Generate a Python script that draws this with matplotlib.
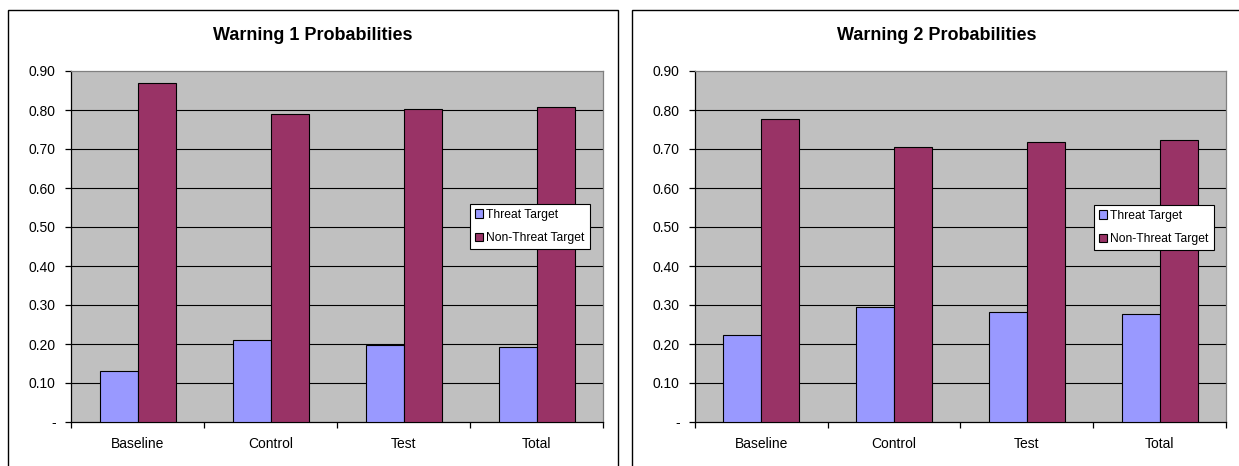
import matplotlib
matplotlib.use("Agg")
import matplotlib.pyplot as plt
from matplotlib.patches import Rectangle
import numpy as np

plt.rcParams['font.family'] = ['Liberation Sans', 'DejaVu Sans']

categories = ["Baseline", "Control", "Test", "Total"]
series_names = ["Threat Target", "Non-Threat Target"]

w1_threat = [0.13, 0.21, 0.198, 0.193]
w1_nonthreat = [0.87, 0.79, 0.802, 0.808]
w2_threat = [0.222, 0.294, 0.282, 0.278]
w2_nonthreat = [0.776, 0.704, 0.718, 0.722]

titles = ["Warning 1 Probabilities", "Warning 2 Probabilities"]
yticks = [0.0, 0.1, 0.2, 0.3, 0.4, 0.5, 0.6, 0.7, 0.8, 0.9]
ytick_labels = ["-", "0.10", "0.20", "0.30", "0.40", "0.50", "0.60", "0.70", "0.80", "0.90"]

threat_color = "#9999FF"
nonthreat_color = "#993366"
plot_bg = "#C0C0C0"

W, H = 1239, 466
fig = plt.figure(figsize=(W / 100, H / 100), dpi=100)
fig.patch.set_facecolor("white")


def px_rect(x0, y0, x1, y1):
    """Convert pixel box (top-left origin) to figure-fraction [l, b, w, h]."""
    return [x0 / W, 1 - y1 / H, (x1 - x0) / W, (y1 - y0) / H]


panels = [
    dict(frame=(8, 10, 618, 480), axes=(71, 71, 603, 422), legend=(470, 204),
         data=(w1_threat, w1_nonthreat), title=titles[0]),
    dict(frame=(632, 10, 1242, 480), axes=(695, 71, 1226, 422), legend=(1094, 205),
         data=(w2_threat, w2_nonthreat), title=titles[1]),
]

x = np.arange(len(categories))
bw = 1 / 3.5

for p in panels:
    fx0, fy0, fx1, fy1 = p["frame"]
    l, b, w, h = px_rect(fx0, fy0, fx1, fy1)
    fig.patches.append(Rectangle((l, b), w, h, transform=fig.transFigure,
                                 facecolor="none", edgecolor="black", linewidth=1.0))

    ax = fig.add_axes(px_rect(*p["axes"]))
    ax.set_facecolor(plot_bg)
    threat, nonthreat = p["data"]
    b1 = ax.bar(x - bw / 2, threat, width=bw, color=threat_color,
                edgecolor="black", linewidth=0.8, zorder=3, label=series_names[0])
    b2 = ax.bar(x + bw / 2, nonthreat, width=bw, color=nonthreat_color,
                edgecolor="black", linewidth=0.8, zorder=3, label=series_names[1])

    ax.set_xlim(-0.5, len(categories) - 0.5)
    ax.set_ylim(0, 0.9)
    ax.set_yticks(yticks)
    ax.set_yticklabels(ytick_labels)
    for yv in yticks[1:-1]:
        ax.axhline(yv, color="black", linewidth=0.8, zorder=1)

    ax.set_xticks(x)
    ax.set_xticklabels(categories)
    ax.set_xticks(np.arange(len(categories) + 1) - 0.5, minor=True)
    ax.tick_params(axis="x", which="major", length=0, pad=11, labelsize=10)
    ax.tick_params(axis="x", which="minor", length=4, width=0.9, direction="out")
    ax.tick_params(axis="y", length=4, width=0.9, direction="out", pad=7, labelsize=10)

    for side in ("top", "right"):
        ax.spines[side].set_color("#808080")
        ax.spines[side].set_linewidth(0.9)
    for side in ("left", "bottom"):
        ax.spines[side].set_color("black")
        ax.spines[side].set_linewidth(0.9)

    fig.text(((fx0 + fx1) / 2) / W, 1 - 35 / H, p["title"], ha="center", va="center",
             fontsize=13, fontweight="bold")

    lx, ly = p["legend"]
    leg = ax.legend(handles=[b1, b2], loc="upper left",
                    bbox_to_anchor=(lx / W, 1 - ly / H), bbox_transform=fig.transFigure,
                    fontsize=8.7, frameon=True, fancybox=False, framealpha=1,
                    edgecolor="black", handlelength=0.7, handleheight=0.7,
                    handletextpad=0.25, borderpad=0.4, labelspacing=0.95,
                    borderaxespad=0)
    leg.get_frame().set_linewidth(0.8)
    leg.set_zorder(10)

fig.savefig("out.png", dpi=100)
